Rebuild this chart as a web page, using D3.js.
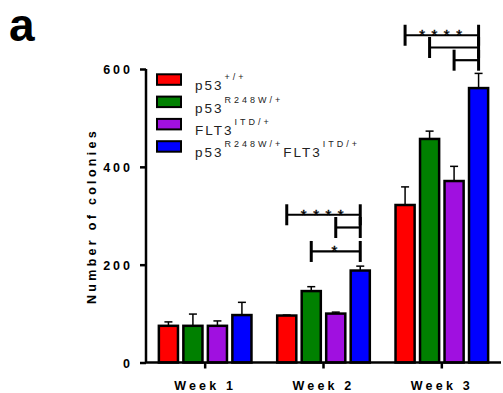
<!DOCTYPE html>
<html>
<head>
<meta charset="utf-8">
<script src="https://cdn.jsdelivr.net/npm/d3@7"></script>
<style>
  html, body { margin: 0; padding: 0; background: #fff; }
  svg { display: block; font-family: Arial, "Liberation Sans", Helvetica, sans-serif; }
</style>
</head>
<body>
<svg id="chart" width="503" height="393"></svg>
<script>
// Colony counts per genotype at each week (mean and upper error)
const weeks = ["Week 1", "Week 2", "Week 3"];
const genotypes = ["wt", "r248w", "itd", "double"];
const colors = ["#ff0000", "#008000", "#a010e0", "#0000ff"];
const meanWt     = [75, 96, 322];
const meanR248w  = [75, 146, 457];
const meanItd    = [75, 100, 371];
const meanDouble = [97, 188, 561];
const errWt      = [8, 1, 37];
const errR248w   = [24, 9, 16];
const errItd     = [10, 3, 30];
const errDouble  = [26, 9, 30];
const yTicks = [0, 200, 400, 600];

// Significance brackets: week, from genotype, to genotype, level (colonies), stars
const bracketWeek  = ["Week 2", "Week 2", "Week 2", "Week 3", "Week 3", "Week 3"];
const bracketFrom  = ["wt", "itd", "r248w", "wt", "r248w", "itd"];
const bracketTo    = ["double", "double", "double", "double", "double", "double"];
const bracketLevel = [302, 276, 227, 669, 644, 618];
const bracketStars = ["****", "", "*", "****", "", ""];

const means = [meanWt, meanR248w, meanItd, meanDouble];
const errs = [errWt, errR248w, errItd, errDouble];

const svg = d3.select("#chart");
const x0 = d3.scaleBand().domain(weeks).range([146, 501]).padding(0);
const x1 = d3.scaleBand().domain(genotypes).range([-49, 49]).paddingInner(0.22).paddingOuter(0.11);
const y = d3.scaleLinear().domain([0, 600]).range([362.5, 69]);

const rows = [];
weeks.forEach((w, i) => {
  genotypes.forEach((g, j) => {
    rows.push({ week: w, g, color: colors[j], v: means[j][i], e: errs[j][i] });
  });
});
const cx = d => x0(d.week) + x0.bandwidth() / 2;

// Error bars (upper only)
const eb = svg.append("g").attr("stroke", "#000").attr("stroke-width", 1.5);
rows.forEach(d => {
  const xc = cx(d) + x1(d.g) + x1.bandwidth() / 2;
  eb.append("line").attr("x1", xc).attr("x2", xc).attr("y1", y(d.v)).attr("y2", y(d.v + d.e));
  eb.append("line").attr("x1", xc - 4).attr("x2", xc + 4).attr("y1", y(d.v + d.e)).attr("y2", y(d.v + d.e));
});

// Bars
svg.append("g").selectAll("rect").data(rows).join("rect")
  .attr("x", d => cx(d) + x1(d.g))
  .attr("y", d => y(d.v))
  .attr("width", x1.bandwidth())
  .attr("height", d => y(0) - y(d.v))
  .attr("fill", d => d.color)
  .attr("stroke", "#000")
  .attr("stroke-width", 2.5);

// Y axis
const yAxis = svg.append("g").attr("transform", "translate(146,0)")
  .call(d3.axisLeft(y).tickValues(yTicks).tickSize(6).tickPadding(7).tickFormat(d3.format("d")));
yAxis.select(".domain").attr("stroke-width", 2.5).attr("d", `M0,${y(600)}V${y(0)}`);
yAxis.selectAll(".tick line").attr("stroke-width", 2.5);
yAxis.selectAll(".tick text")
  .attr("font-family", "Arial, 'Liberation Sans', sans-serif")
  .attr("font-size", 12.5).attr("font-weight", "bold").attr("fill", "#000")
  .attr("letter-spacing", "3px").attr("dy", "0.36em");

// X axis
const xAxis = svg.append("g").attr("transform", `translate(0,${y(0)})`)
  .call(d3.axisBottom(x0).tickSize(6).tickPadding(13));
xAxis.select(".domain").attr("stroke-width", 2.5).attr("d", "M146,0H501");
xAxis.selectAll(".tick line").attr("stroke-width", 2.5);
xAxis.selectAll(".tick text")
  .attr("font-family", "Arial, 'Liberation Sans', sans-serif")
  .attr("font-size", 12.5).attr("font-weight", "bold").attr("fill", "#000")
  .attr("letter-spacing", "3.2px");

// Y axis title
svg.append("text")
  .attr("transform", "translate(96,216) rotate(-90)")
  .attr("text-anchor", "middle")
  .attr("font-size", 12.5).attr("font-weight", "bold")
  .attr("letter-spacing", "3.3px")
  .text("Number of colonies");

// Panel letter
svg.append("text").attr("x", 9).attr("y", 41)
  .attr("font-size", 46).attr("font-weight", "bold").text("a");

// Significance brackets
const br = svg.append("g").attr("stroke", "#000");
bracketWeek.forEach((w, i) => {
  const xa = x0(w) + x0.bandwidth() / 2 + x1(bracketFrom[i]) + x1.bandwidth() / 2;
  const xb = x0(w) + x0.bandwidth() / 2 + x1(bracketTo[i]) + x1.bandwidth() / 2;
  const yy = y(bracketLevel[i]);
  br.append("line").attr("x1", xa).attr("x2", xb).attr("y1", yy).attr("y2", yy).attr("stroke-width", 2.2);
  br.append("line").attr("x1", xa).attr("x2", xa).attr("y1", yy - 10.5).attr("y2", yy + 10.5).attr("stroke-width", 3);
  br.append("line").attr("x1", xb).attr("x2", xb).attr("y1", yy - 10.5).attr("y2", yy + 10.5).attr("stroke-width", 3);
  if (bracketStars[i]) {
    svg.append("text").attr("x", (xa + xb) / 2 + 2).attr("y", yy + 5)
      .attr("text-anchor", "middle").attr("font-size", 15)
      .attr("letter-spacing", "6.5px").attr("fill", "#000")
      .attr("stroke", "#000").attr("stroke-width", 0.4)
      .text(bracketStars[i]);
  }
});

// Legend
const legendLabels = [
  [["p53", 0], ["+/+", 1]],
  [["p53", 0], ["R248W/+", 1]],
  [["FLT3", 0], ["ITD/+", 1]],
  [["p53", 0], ["R248W/+", 1], ["FLT3", 0], ["ITD/+", 1]]
];
const lg = svg.append("g");
legendLabels.forEach((parts, i) => {
  const base = 90.3 + i * 22.3;
  lg.append("rect").attr("x", 157).attr("y", base - 16).attr("width", 24).attr("height", 10.5)
    .attr("fill", colors[i]).attr("stroke", "#000").attr("stroke-width", 2);
  const t = lg.append("text").attr("x", 195).attr("y", base).attr("fill", "#222");
  let prevSup = 0;
  parts.forEach(([s, sup]) => {
    const shift = sup ? -10 : 0;
    t.append("tspan")
      .attr("dy", shift - prevSup)
      .attr("dx", sup ? 1 : 0)
      .attr("font-size", sup ? 9 : 13.5)
      .attr("letter-spacing", sup ? "3px" : "2px")
      .text(s);
    prevSup = shift;
  });
});
</script>
</body>
</html>
